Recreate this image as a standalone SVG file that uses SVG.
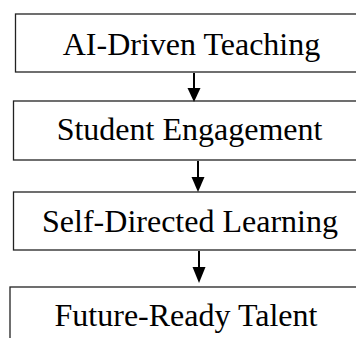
<svg xmlns="http://www.w3.org/2000/svg" width="356" height="338" viewBox="0 0 356 338">
  <defs>
    <style>
      .box { fill: #ffffff; stroke: #222222; stroke-width: 1.3; }
      .label { font-family: "Liberation Serif", "Times New Roman", serif; font-size: 32px; fill: #000000; text-anchor: middle; }
      .conn { stroke: #000000; stroke-width: 2; fill: none; }
      .head { fill: #000000; }
    </style>
  </defs>
  <rect width="356" height="338" fill="#ffffff"/>

  <g id="node-ai-teaching">
    <rect class="box" x="15.5" y="14" width="420" height="58"/>
    <text class="label" x="191.5" y="55">AI-Driven Teaching</text>
  </g>

  <g id="node-engagement">
    <rect class="box" x="13.5" y="101" width="420" height="59"/>
    <text class="label" x="189.5" y="140">Student Engagement</text>
  </g>

  <g id="node-self-directed">
    <rect class="box" x="13.5" y="192" width="420" height="58"/>
    <text class="label" x="190" y="232">Self-Directed Learning</text>
  </g>

  <g id="node-talent">
    <rect class="box" x="10" y="287" width="420" height="80"/>
    <text class="label" x="186" y="326">Future-Ready Talent</text>
  </g>

  <g id="connectors">
    <line class="conn" x1="194" y1="73" x2="194" y2="90"/>
    <polygon class="head" points="187.5,88 200.5,88 194,102"/>

    <line class="conn" x1="198" y1="161" x2="198" y2="179"/>
    <polygon class="head" points="191.5,177 204.5,177 198,192"/>

    <line class="conn" x1="199" y1="251" x2="199" y2="269"/>
    <polygon class="head" points="192.5,267 205.5,267 199,283"/>
  </g>
</svg>
